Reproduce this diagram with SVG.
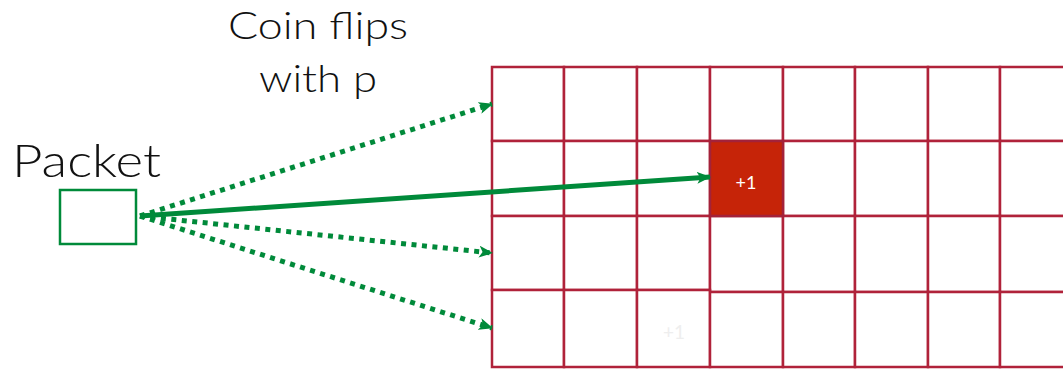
<svg xmlns="http://www.w3.org/2000/svg" width="1063" height="369" viewBox="0 0 1063 369">
<style>
.lbl{font-family:Lato,"Open Sans","Liberation Sans",sans-serif;font-weight:300;fill:#111}
.cell{fill:#fff;stroke:#B0223A;stroke-width:2.5}
.hot{fill:#C62408;stroke:#A3223A;stroke-width:2.5}
.c{stroke:#008A3A;stroke-width:5;fill:none}
.dot{stroke-dasharray:5 5.5}
</style>
<defs>
<marker id="ah" viewBox="0 0 14 12" refX="13" refY="6" markerWidth="14" markerHeight="12" markerUnits="userSpaceOnUse" orient="auto">
<path d="M0,0 L14,6 L0,12 L3.5,6 Z" fill="#008A3A"/>
</marker>
</defs>
<rect width="1063" height="369" fill="#fff"/>
<g id="title">
<text class="lbl" x="318" y="39" font-size="38" text-anchor="middle" textLength="180" lengthAdjust="spacingAndGlyphs">Coin flips</text>
<text class="lbl" x="318" y="92" font-size="38" text-anchor="middle" textLength="118" lengthAdjust="spacingAndGlyphs">with p</text>
</g>
<g id="packet">
<text class="lbl" x="12" y="177" font-size="46" textLength="149" lengthAdjust="spacingAndGlyphs">Packet</text>
<rect x="60" y="190" width="76" height="54" fill="#fff" stroke="#008A3A" stroke-width="2.5"/>
</g>
<g id="grid">
<rect class="cell" x="492" y="67" width="72" height="74"/>
<rect class="cell" x="564" y="67" width="73" height="74"/>
<rect class="cell" x="637" y="67" width="73" height="74"/>
<rect class="cell" x="710" y="67" width="73" height="74"/>
<rect class="cell" x="783" y="67" width="72" height="74"/>
<rect class="cell" x="855" y="67" width="73" height="74"/>
<rect class="cell" x="928" y="67" width="72" height="74"/>
<rect class="cell" x="1000" y="67" width="70" height="74"/>
<rect class="cell" x="492" y="141" width="72" height="75"/>
<rect class="cell" x="564" y="141" width="73" height="75"/>
<rect class="cell" x="637" y="141" width="73" height="75"/>
<rect class="cell" x="783" y="141" width="72" height="75"/>
<rect class="cell" x="855" y="141" width="73" height="75"/>
<rect class="cell" x="928" y="141" width="72" height="75"/>
<rect class="cell" x="1000" y="141" width="70" height="75"/>
<rect class="cell" x="492" y="216" width="72" height="74"/>
<rect class="cell" x="564" y="216" width="73" height="74"/>
<rect class="cell" x="637" y="216" width="73" height="74"/>
<rect class="cell" x="710" y="216" width="73" height="76"/>
<rect class="cell" x="783" y="216" width="72" height="76"/>
<rect class="cell" x="855" y="216" width="73" height="76"/>
<rect class="cell" x="928" y="216" width="72" height="76"/>
<rect class="cell" x="1000" y="216" width="70" height="76"/>
<rect class="cell" x="492" y="290" width="72" height="77"/>
<rect class="cell" x="564" y="290" width="73" height="77"/>
<rect class="cell" x="637" y="290" width="73" height="77"/>
<rect class="cell" x="710" y="292" width="73" height="75"/>
<rect class="cell" x="783" y="292" width="72" height="75"/>
<rect class="cell" x="855" y="292" width="73" height="75"/>
<rect class="cell" x="928" y="292" width="72" height="75"/>
<rect class="cell" x="1000" y="292" width="70" height="75"/>
<text x="674" y="339" font-family="Lato,'Liberation Sans',sans-serif" font-size="19" fill="#eeeeee" text-anchor="middle">+1</text>
</g>
<g id="hit">
<rect class="hot" x="710" y="141" width="73" height="75"/>
<text x="746" y="189" font-family="Lato,'Liberation Sans',sans-serif" font-size="18" fill="#fff" text-anchor="middle">+1</text>
</g>
<g id="connectors">
<line class="c dot" x1="140" y1="216" x2="492" y2="104" marker-end="url(#ah)"/>
<line class="c dot" x1="140" y1="216" x2="492" y2="253" marker-end="url(#ah)"/>
<line class="c dot" x1="140" y1="216" x2="492" y2="328" marker-end="url(#ah)"/>
<line class="c" stroke-width="3.5" x1="140" y1="216" x2="710" y2="177" marker-end="url(#ah)"/>
</g>
</svg>
